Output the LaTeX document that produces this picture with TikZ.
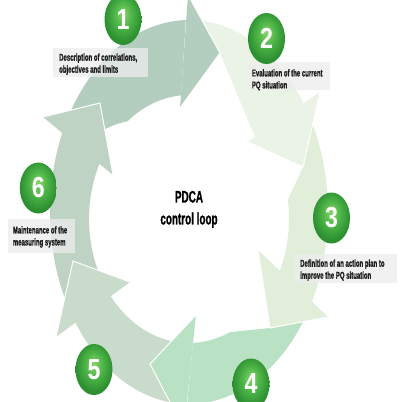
\documentclass[tikz,border=0pt]{standalone}
\usepackage{fontspec}
\usetikzlibrary{shapes.geometric}
\newfontfamily\condfont[FakeStretch=0.6, BoldFeatures={FakeBold=1}]{Liberation Sans}
\newfontfamily\numfont[FakeStretch=0.8]{Liberation Sans}
\definecolor{aone}{HTML}{B3CDBF}
\definecolor{atwo}{HTML}{EAF3E5}
\definecolor{athree}{HTML}{E1EEDA}
\definecolor{afour}{HTML}{B9E1C4}
\definecolor{afive}{HTML}{C9DCCB}
\definecolor{asix}{HTML}{BED3C4}
\definecolor{gA}{HTML}{8AD46A}
\definecolor{gB}{HTML}{4DB548}
\definecolor{gC}{HTML}{2C8F30}
\definecolor{boxgray}{HTML}{EDEDED}
\definecolor{txtdark}{HTML}{1E1E1E}
\pgfdeclareradialshading{greenball}{\pgfpoint{0bp}{6bp}}{color(0bp)=(gA); color(12bp)=(gB); color(25bp)=(gC); color(50bp)=(gC)}
\tikzset{
  pl/.style={samples=40, variable=\q},
  hl/.style={draw=white, line width=1pt, line join=miter},
  numc/.style={ellipse, minimum width=37pt, minimum height=51pt, inner sep=0pt,
    shade, shading=greenball, text=white, font=\numfont\bfseries\fontsize{29}{29}\selectfont},
  lbox/.style={fill=boxgray, fill opacity=0.75, inner sep=0pt, anchor=north west},
  ltext/.style={font=\condfont\bfseries\fontsize{10}{12}\selectfont, text=txtdark,
    align=left, inner sep=0pt, anchor=north west},
  ctext/.style={font=\condfont\bfseries\fontsize{16.5}{22}\selectfont, text=black,
    align=center, inner sep=0pt, anchor=north}
}
\begin{document}
\begin{tikzpicture}[x=1pt,y=-1pt]
\useasboundingbox (0,0) rectangle (400,402);
\fill[white] (0,0) rectangle (400,402);
\begin{scope}
\clip (0,0) rectangle (400,402);
% head vertices: inner back corner, outer back corner, tip
\coordinate (I1) at (180,108); \coordinate (O1) at (188,-5);  \coordinate (T1) at (220,53);
\coordinate (I2) at (248,142); \coordinate (O2) at (320,92);  \coordinate (T2) at (303,167);
\coordinate (I3) at (258,250); \coordinate (O3) at (328,317); \coordinate (T3) at (270,328);
\coordinate (I4) at (196,315); \coordinate (O4) at (184,429); \coordinate (T4) at (150,364);
\coordinate (I5) at (130,282); \coordinate (O5) at (56,337);  \coordinate (T5) at (73,261);
\coordinate (I6) at (113,175); \coordinate (O6) at (43,117);  \coordinate (T6) at (100,103);
% bodies
\fill[aone] (T6) -- (71,110)
  -- plot[pl, domain=211.9:268.7] ({189+139*cos(\q)},{212+192*sin(\q)})
  -- plot[pl, domain=265.4:232] ({189+100*cos(\q)},{219+124*sin(\q)})
  .. controls (116,124) .. (103,130) -- cycle;
\fill[atwo] (T1) -- (203,22)
  -- plot[pl, domain=-84.2:-34.6] ({189+139*cos(\q)},{212+192*sin(\q)})
  -- (255,137) -- cycle;
\fill[athree] (T2) -- (313,125)
  -- plot[pl, domain=-26.9:28] ({189+139*cos(\q)},{212+192*sin(\q)})
  -- plot[pl, domain=25:-8.8] ({189+100*cos(\q)},{219+124*sin(\q)}) -- cycle;
\fill[afour] (T3) -- (303,322)
  -- plot[pl, domain=34.9:90.8] ({189+139*cos(\q)},{212+192*sin(\q)})
  -- plot[pl, domain=87.7:65.8] ({189+100*cos(\q)},{219+124*sin(\q)}) -- cycle;
\fill[afive] (T4) -- (170,402)
  -- plot[pl, domain=97.9:145] ({189+139*cos(\q)},{212+192*sin(\q)})
  -- plot[pl, domain=142:95] ({189+100*cos(\q)},{219+124*sin(\q)}) -- cycle;
\fill[asix] (T5) -- (65,300)
  -- plot[pl, domain=153.1:204.5] ({189+139*cos(\q)},{212+192*sin(\q)})
  -- plot[pl, domain=206.5:153] ({189+100*cos(\q)},{219+124*sin(\q)}) -- cycle;
% heads
\fill[aone] (I1) -- (O1) -- (T1) -- cycle;   \draw[hl] (I1) -- (T1) -- (O1);
\fill[atwo] (I2) -- (O2) -- (T2) -- cycle;   \draw[hl] (I2) -- (T2) -- (O2);
\fill[athree] (I3) -- (O3) -- (T3) -- cycle; \draw[hl] (I3) -- (T3) -- (O3);
\fill[afour] (I4) -- (O4) -- (T4) -- cycle;  \draw[hl] (I4) -- (T4) -- (O4);
\fill[afive] (I5) -- (O5) -- (T5) -- cycle;  \draw[hl] (I5) -- (T5) -- (O5);
\fill[asix] (I6) -- (O6) -- (T6) -- cycle;   \draw[hl] (I6) -- (T6) -- (O6);
% label boxes
\node[lbox, minimum width=95pt, minimum height=29pt] (b1) at (53,48) {};
\node[lbox, minimum width=82pt, minimum height=28pt] (b2) at (248,62) {};
\node[lbox, minimum width=102pt, minimum height=29pt] (b3) at (295,254) {};
\node[lbox, minimum width=67pt, minimum height=34pt] (b6) at (8,219) {};
\node[ltext] (t1) at (59,53.3) {Description of correlations,\\objectives and limits};
\node[ltext] (t2) at (251.7,69) {Evaluation of the current\\PQ situation};
\node[ltext] (t3) at (300,259.3) {Definition of an action plan to\\improve the PQ situation};
\node[ltext] (t6) at (12.7,226) {Maintenance of the\\measuring system};
% centre text
\node[ctext] (pdca) at (189,190.7) {PDCA\\control loop};
% numbered circles
\node[numc] (c1) at (123,19.5) {1};
\node[numc] (c2) at (266.5,38.5) {2};
\node[numc] (c3) at (331.5,218) {3};
\node[numc] (c4) at (251,384) {4};
\node[numc] (c5) at (94,369.5) {5};
\node[numc] (c6) at (38.3,188) {6};
\end{scope}
\end{tikzpicture}
\end{document}
